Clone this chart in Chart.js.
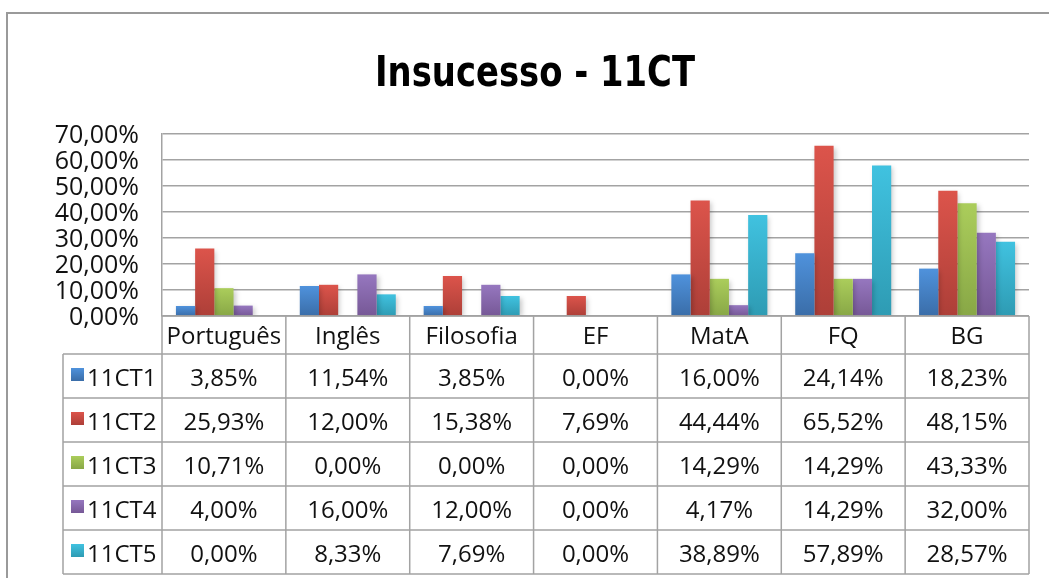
<!DOCTYPE html>
<html>
<head>
<meta charset="utf-8">
<script src="https://cdn.jsdelivr.net/npm/chart.js@4.4.1/dist/chart.umd.min.js"></script>
<style>
html, body { margin: 0; padding: 0; background: #fff; }
#wrap { position: relative; width: 1049px; height: 578px; }
</style>
</head>
<body>
<div id="wrap"><canvas id="insucessoChart" width="1049" height="578"></canvas></div>
<script>
const titulo = "Insucesso - 11CT";
const disciplinas = ["Português", "Inglês", "Filosofia", "EF", "MatA", "FQ", "BG"];
const turmas = ["11CT1", "11CT2", "11CT3", "11CT4", "11CT5"];
const ct1 = [3.85, 11.54, 3.85, 0.00, 16.00, 24.14, 18.23];
const ct2 = [25.93, 12.00, 15.38, 7.69, 44.44, 65.52, 48.15];
const ct3 = [10.71, 0.00, 0.00, 0.00, 14.29, 14.29, 43.33];
const ct4 = [4.00, 16.00, 12.00, 0.00, 4.17, 14.29, 32.00];
const ct5 = [0.00, 8.33, 7.69, 0.00, 38.89, 57.89, 28.57];
const yTicks = [0, 10, 20, 30, 40, 50, 60, 70];

const series = [ct1, ct2, ct3, ct4, ct5];
// light top / dark bottom, excel 2007 look
const colors = [
  ['#4f92dc', '#3a6da8'],
  ['#dc544b', '#ad3f38'],
  ['#abcd5b', '#88a746'],
  ['#9677bf', '#765896'],
  ['#40c2e0', '#2e9bb3']
];
const lineGray = '#a3a3a3';

function pct(v) {
  return v.toFixed(2).replace('.', ',') + '%';
}

function barFill(i) {
  return (c) => {
    const chart = c.chart;
    const y = chart.scales && chart.scales.y;
    if (!y || c.raw === undefined) return colors[i][0];
    const top = y.getPixelForValue(c.raw);
    const bottom = y.getPixelForValue(0);
    if (!Number.isFinite(top) || !Number.isFinite(bottom) || bottom - top < 1) return colors[i][1];
    const g = chart.ctx.createLinearGradient(0, top, 0, bottom);
    g.addColorStop(0, colors[i][0]);
    g.addColorStop(1, colors[i][1]);
    return g;
  };
}

const shadowPlugin = {
  id: 'sombra',
  beforeDatasetsDraw(chart) {
    const ctx = chart.ctx;
    ctx.save();
    ctx.shadowColor = 'rgba(0,0,0,0.22)';
    ctx.shadowBlur = 5;
    ctx.shadowOffsetX = 2;
    ctx.shadowOffsetY = 2;
  },
  afterDatasetsDraw(chart) {
    chart.ctx.restore();
  }
};

const tablePlugin = {
  id: 'tabela',
  afterDraw(chart) {
    const { ctx, chartArea: a, scales: { x } } = chart;
    const colW = (a.right - a.left) / disciplinas.length;
    const legendLeft = 63;
    const headerBottom = a.bottom + 38;
    const rowH = 44;
    const tableBottom = headerBottom + rowH * turmas.length;

    ctx.save();

    // outer frame
    ctx.strokeStyle = '#9a9a9a';
    ctx.lineWidth = 2;
    ctx.beginPath();
    ctx.moveTo(7, chart.height);
    ctx.lineTo(7, 13);
    ctx.lineTo(chart.width, 13);
    ctx.stroke();

    // title, squeezed to look like the condensed original
    ctx.save();
    ctx.fillStyle = '#000';
    ctx.font = 'bold 43px "DejaVu Sans"';
    ctx.textAlign = 'center';
    ctx.textBaseline = 'alphabetic';
    const w = ctx.measureText(titulo).width;
    ctx.translate(535, 86);
    ctx.scale(320 / w, 1);
    ctx.fillText(titulo, 0, 0);
    ctx.restore();

    // table lines
    ctx.strokeStyle = lineGray;
    ctx.lineWidth = 1.5;
    ctx.beginPath();
    ctx.moveTo(a.left, a.bottom);
    ctx.lineTo(a.right, a.bottom);
    for (let r = 0; r <= turmas.length; r++) {
      const yy = headerBottom + r * rowH;
      ctx.moveTo(legendLeft, yy);
      ctx.lineTo(a.right, yy);
    }
    ctx.moveTo(legendLeft, headerBottom);
    ctx.lineTo(legendLeft, tableBottom);
    for (let i = 0; i <= disciplinas.length; i++) {
      const xx = i < disciplinas.length ? x.getPixelForValue(i) - colW / 2 : a.right;
      ctx.moveTo(xx, a.bottom);
      ctx.lineTo(xx, tableBottom);
    }
    ctx.stroke();

    ctx.font = '24px "Open Sans"';
    ctx.fillStyle = '#111';
    ctx.textBaseline = 'middle';
    ctx.textAlign = 'center';
    disciplinas.forEach((d, i) => {
      ctx.fillText(d, x.getPixelForValue(i), a.bottom + 21);
    });

    turmas.forEach((t, r) => {
      const rowTop = headerBottom + r * rowH;
      const g = ctx.createLinearGradient(0, rowTop + 14, 0, rowTop + 27);
      g.addColorStop(0, colors[r][0]);
      g.addColorStop(1, colors[r][1]);
      ctx.fillStyle = g;
      ctx.fillRect(71, rowTop + 14, 13, 13);
      ctx.fillStyle = '#111';
      ctx.textAlign = 'left';
      ctx.fillText(t, 87, rowTop + 25);
      ctx.textAlign = 'center';
      series[r].forEach((v, i) => {
        ctx.fillText(pct(v), x.getPixelForValue(i), rowTop + 25);
      });
    });

    ctx.restore();
  }
};

Chart.defaults.font.family = '"Open Sans"';

const chart = new Chart(document.getElementById('insucessoChart'), {
  type: 'bar',
  data: {
    labels: disciplinas,
    datasets: turmas.map((t, i) => ({
      label: t,
      data: series[i],
      backgroundColor: barFill(i),
      borderWidth: 0,
      barPercentage: 1,
      categoryPercentage: 0.775
    }))
  },
  options: {
    responsive: false,
    animation: false,
    layout: { padding: { top: 134, bottom: 262, left: 0, right: 20 } },
    plugins: {
      legend: { display: false },
      tooltip: { enabled: false },
      title: { display: false }
    },
    scales: {
      x: {
        display: false
      },
      y: {
        min: 0,
        max: 70,
        afterBuildTicks: (scale) => { scale.ticks = yTicks.map(v => ({ value: v })); },
        afterFit: (scale) => { scale.width = 162; },
        grid: { color: lineGray, lineWidth: 1.5, drawTicks: false },
        border: { display: true, color: lineGray, width: 1.5 },
        ticks: {
          autoSkip: false,
          padding: 23,
          labelOffset: 2,
          color: '#111',
          font: { size: 25 },
          callback: (v) => pct(v)
        }
      }
    }
  },
  plugins: [shadowPlugin, tablePlugin]
});
</script>
</body>
</html>
